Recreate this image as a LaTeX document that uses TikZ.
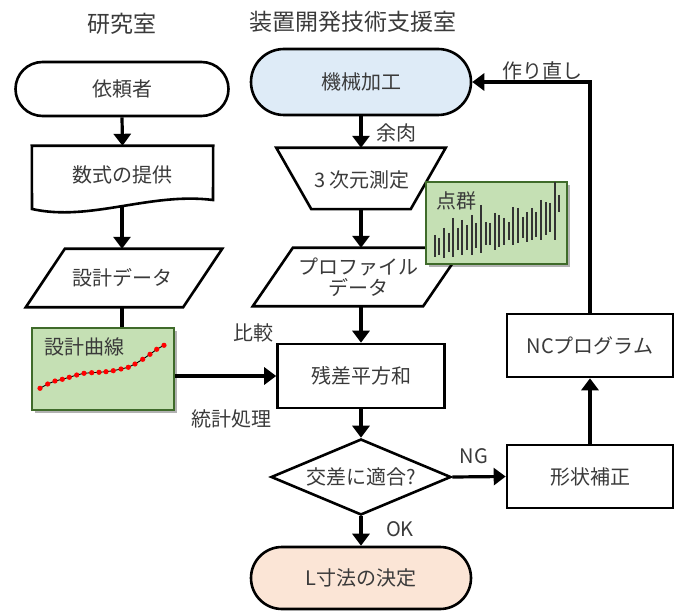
\documentclass[tikz,border=0pt]{standalone}
\usepackage{fontspec}
\setmainfont{Noto Sans CJK JP}
\usetikzlibrary{shapes.misc,shapes.geometric,arrows.meta,shadows,calc}
\definecolor{txt}{HTML}{3A3A3A}
\definecolor{bluef}{HTML}{DEEBF7}
\definecolor{peachf}{HTML}{FBE5D6}
\definecolor{greenf}{HTML}{C5E0B4}
\definecolor{greend}{HTML}{3F6B2A}
\begin{document}
\begin{tikzpicture}[x=1pt,y=-1pt,
  every node/.style={text=txt, font=\fontsize{20}{21}\selectfont},
  bord/.style={line width=2.6pt, line join=miter},
  term/.style={rounded rectangle, draw=black, bord, inner sep=0pt},
  rbox/.style={rectangle, draw=black, bord, fill=white, inner sep=0pt},
  ghost/.style={rectangle, draw=none, inner sep=0pt},
  gbox/.style={rectangle, draw=greend, fill=greenf, line width=2pt, inner sep=0pt,
    drop shadow={shadow xshift=3pt, shadow yshift=-3pt, fill=black, opacity=0.3}},
  conn/.style={line width=3.2pt, -{Triangle[length=12pt,width=17pt]}},
  plainline/.style={line width=3.2pt},
  head/.style={font=\fontsize{23}{26}\selectfont}
]
\useasboundingbox (0,0) rectangle (677,612);

% headers
\node[head] (h1) at (122,24) {研究室};
\node[head] (h2) at (353,22) {装置開発技術支援室};

% left column
\node[term, minimum width=213pt, minimum height=54pt] (irai) at (122,89) {依頼者};
\node[ghost, minimum width=181pt, minimum height=54pt] (sushiki) at (122.5,173) {};
\draw[bord, fill=white] (sushiki.north west) -- (sushiki.north east) -- (213,200)
   .. controls (150,192) and (90,222) .. (32,209) -- cycle;
\node (sushikit) at (122.5,175) {数式の提供};
\coordinate (sushikib) at (122,207);
\node[ghost, minimum width=196pt, minimum height=58pt] (sdata) at (124,278) {};
\draw[bord, fill=white] ($(sdata.north west)+(39,0)$) -- (sdata.north east)
   -- ($(sdata.south east)+(-39,0)$) -- (sdata.south west) -- cycle;
\node (sdatat) at (122,278) {設計データ};

% center column
\node[term, fill=bluef, minimum width=220pt, minimum height=66pt] (kikai) at (361,82) {機械加工};
\node[ghost, minimum width=169pt, minimum height=61pt] (sanji) at (361,178.5) {};
\draw[bord, fill=white] (sanji.north west) -- (sanji.north east)
   -- ($(sanji.south east)+(-35,0)$) -- ($(sanji.south west)+(35,0)$) -- cycle;
\node (sanjit) at (362,180) {3 次元測定};
\node[ghost, minimum width=210pt, minimum height=58pt] (prof) at (358,277) {};
\draw[bord, fill=white] ($(prof.north west)+(40,0)$) -- (prof.north east)
   -- ($(prof.south east)+(-40,0)$) -- (prof.south west) -- cycle;
\node[align=center] (proft) at (358,277) {プロファイル\\データ};
\node[rbox, minimum width=167pt, minimum height=64pt] (zansa) at (361,376) {残差平方和};
\node[diamond, draw=black, bord, fill=white, inner sep=0pt, aspect=2.37,
      minimum width=180pt, minimum height=76pt] (tekigo) at (361,477) {交差に適合?};
\node[term, fill=peachf, minimum width=220pt, minimum height=62pt] (ldim) at (361,578) {L寸法の決定};

% right column
\node[rbox, minimum width=166pt, minimum height=63pt] (nc) at (590,345.5) {NCプログラム};
\node[rbox, minimum width=166pt, minimum height=63pt] (keijo) at (590,476.5) {形状補正};

% green boxes
\node[gbox, minimum width=142pt, minimum height=82pt] (curve) at (103,369) {};
\node[anchor=west] (curvet) at (41,347) {設計曲線};
\draw[line width=0.9pt] plot coordinates {(40,388.3) (47.7,384) (55,381) (62.3,379.3) (69.3,377.3)
  (76.7,375) (84,373.3) (91.7,372.7) (99,372.3) (106,371.7) (113.3,370.7) (121,369) (128.3,367.3)
  (135,364) (142.7,359.3) (150,354.3) (156.7,349.3) (164,345.3)};
\foreach \px/\py in {40/388.3, 47.7/384, 55/381, 62.3/379.3, 69.3/377.3, 76.7/375, 84/373.3,
  91.7/372.7, 99/372.3, 106/371.7, 113.3/370.7, 121/369, 128.3/367.3, 135/364, 142.7/359.3,
  150/354.3, 156.7/349.3, 164/345.3}
  \fill[red] (\px,\py) circle[radius=2.6pt];

\node[gbox, minimum width=141pt, minimum height=82pt] (tengun) at (496.5,223) {};
\node[anchor=west] (tenguntt) at (433,201) {点群};
\foreach \bx/\ya/\yb in {435/235/257, 439.3/238/255, 444/228/258, 448.7/233/252, 453.3/218/257,
  457.7/228/250, 462.3/220/255, 467/225/250, 471.7/215/255, 476.3/223/248, 481/205/253,
  485.7/222/245, 490.3/223/245, 494.7/213/250, 499.3/215/247, 504/218/245, 508.7/222/240,
  513.3/207/245, 518/208/243, 522.7/217/238, 527/212/242, 531.7/208/240, 536.3/212/237,
  541/200/240, 545.7/202/235, 550.3/203/232, 554.7/182/240, 558.7/195/212}
  \draw[line width=1.8pt, draw=black!80] (\bx,\ya) -- (\bx,\yb);

% connectors
\draw[conn] (irai.south) -- (sushiki.north);
\draw[conn] (sushikib) -- (sdata.north -| sushikib);
\draw[plainline] (sdata.south -| sushikib) -- (curve.north -| sushikib);
\draw[conn] (curve.east |- zansa.west) -- (zansa.west);
\draw[conn] (kikai.south) -- (sanji.north);
\draw[conn] (sanji.south) -- (prof.north -| sanji.south);
\draw[conn] (prof.south -| zansa.north) -- (zansa.north);
\draw[conn] (zansa.south) -- (tekigo.north);
\draw[conn] (tekigo.south) -- (ldim.north);
\draw[conn] (tekigo.east) -- (keijo.west);
\draw[conn] (keijo.north) -- (nc.south);
\draw[conn] (nc.north) -- (nc.north |- kikai.east) -- (kikai.east);

% labels
\node (l1) at (396,133) {余肉};
\node (l2) at (253,333) {比較};
\node (l3) at (231,419) {統計処理};
\node (l4) at (474,456) {NG};
\node (l5) at (400,529) {OK};
\node (l6) at (542,71) {作り直し};
\end{tikzpicture}
\end{document}
